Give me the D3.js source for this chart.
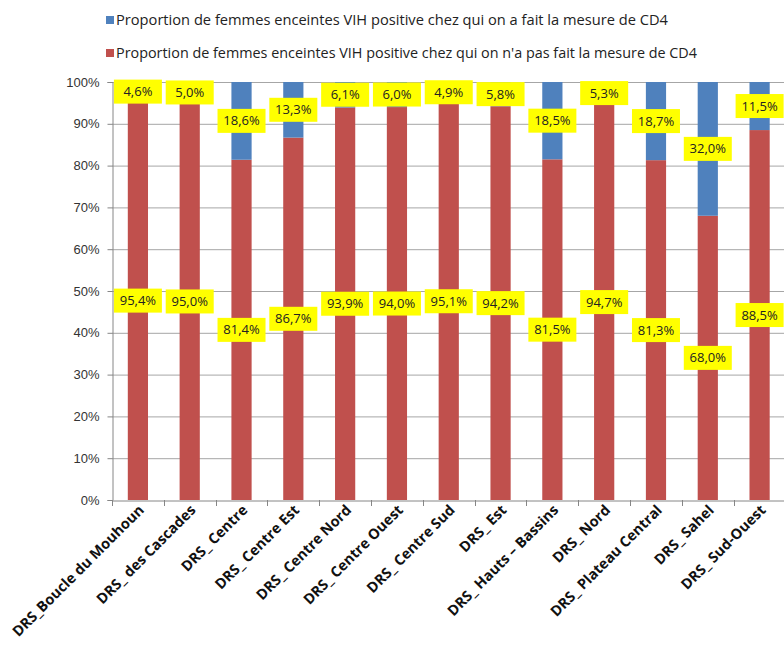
<!DOCTYPE html>
<html><head><meta charset="utf-8">
<script src="https://cdn.jsdelivr.net/npm/d3@7"></script>
<style>body{margin:0;background:#fff}svg{display:block}</style>
</head><body>
<script>
const categories = ["DRS_Boucle du Mouhoun","DRS_ des Cascades","DRS_ Centre","DRS_ Centre Est","DRS_ Centre Nord","DRS_ Centre Ouest","DRS_ Centre Sud","DRS_ Est","DRS_ Hauts – Bassins","DRS_ Nord","DRS_ Plateau Central","DRS_ Sahel","DRS_ Sud-Ouest"];
const notMeasured = [95.4,95.0,81.4,86.7,93.9,94.0,95.1,94.2,81.5,94.7,81.3,68.0,88.5];
const measured = [4.6,5.0,18.6,13.3,6.1,6.0,4.9,5.8,18.5,5.3,18.7,32.0,11.5];
const seriesNames = ["Proportion de femmes enceintes VIH positive chez qui on a fait la mesure de CD4","Proportion de femmes enceintes VIH positive chez qui on n'a pas fait la mesure de CD4"];
const yTicks = [0,10,20,30,40,50,60,70,80,90,100];

const W = 784, H = 652;
const svg = d3.select("body").append("svg").attr("width",W).attr("height",H)
  .style("font-family","'Open Sans', 'Liberation Sans', sans-serif");

const x = d3.scaleBand().domain(categories).range([112, 785.5]).paddingInner(0.61).paddingOuter(0.305);
const xb = d3.scaleBand().domain(categories).range([112, 785.5]);
const y = d3.scaleLinear().domain([0,100]).range([500,82]);
const colors = {measured:"#4F81BD", not:"#C0504D"};

// gridlines
svg.append("g").selectAll("line").data(yTicks.filter(d=>d>0)).join("line")
  .attr("x1",112).attr("x2",W).attr("y1",d=>y(d)+0.5).attr("y2",d=>y(d)+0.5)
  .attr("stroke","#a6a6a6").attr("stroke-width",1);

// y axis
const yAxis = d3.axisLeft(y).tickValues(yTicks).tickFormat(d=>d+"%").tickSize(5).tickPadding(8);
const gy = svg.append("g").attr("transform","translate(112.5,0)").call(yAxis);
gy.select(".domain").attr("stroke","#868686");
gy.selectAll(".tick line").attr("stroke","#868686");
gy.selectAll(".tick text").attr("fill","#333").style("font-size","13px");

// bars
const stack = categories.map((c,i)=>({c, nm:notMeasured[i], m:measured[i]}));
svg.append("g").selectAll("rect").data(stack).join("rect")
  .attr("x",d=>x(d.c)).attr("width",x.bandwidth())
  .attr("y",d=>y(d.nm)).attr("height",d=>y(0)-y(d.nm)).attr("fill",colors.not);
svg.append("g").selectAll("rect").data(stack).join("rect")
  .attr("x",d=>x(d.c)).attr("width",x.bandwidth())
  .attr("y",d=>y(d.nm+d.m)).attr("height",d=>y(d.nm)-y(d.nm+d.m)).attr("fill",colors.measured);

// x axis
const xAxis = d3.axisBottom(xb).tickSize(0).tickFormat("");
const gx = svg.append("g").attr("transform","translate(0,500.5)").call(xAxis);
gx.select(".domain").attr("stroke","#868686");
svg.append("g").selectAll("line").data(categories).join("line")
  .attr("x1",d=>Math.round(xb(d))+0.5).attr("x2",d=>Math.round(xb(d))+0.5)
  .attr("y1",500).attr("y2",506).attr("stroke","#868686");

// x labels
svg.append("g").selectAll("text").data(categories).join("text")
  .attr("transform",d=>`translate(${xb(d)+xb.bandwidth()/2+7},${511}) rotate(-45)`)
  .attr("text-anchor","end").attr("font-weight","bold").attr("fill","#111")
  .style("font-size","14.5px").text(d=>d);

// data labels
function addLabels(vals, centerFn){
  const g = svg.append("g");
  stack.forEach((d,i)=>{
    const cx = x(d.c)+x.bandwidth()/2;
    const cy = centerFn(d);
    const t = d3.format(".1f")(vals[i]).replace(".",",")+"%";
    const gg = g.append("g").attr("transform",`translate(${cx},${cy})`);
    gg.append("rect").attr("x",-24).attr("y",-12).attr("width",48).attr("height",24).attr("fill","#FFFF00");
    gg.append("text").attr("text-anchor","middle").attr("dy","0.35em").attr("fill","#222")
      .style("font-size","13px").text(t);
  });
}
addLabels(notMeasured, d=>y(d.nm/2));
addLabels(measured, d=>y(d.nm + d.m/2));

// legend
const leg = svg.append("g");
[[seriesNames[0],colors.measured,16,552],[seriesNames[1],colors.not,49,581]].forEach(([n,c,yy,len])=>{
  leg.append("rect").attr("x",106).attr("y",yy).attr("width",8).attr("height",8).attr("fill",c);
  leg.append("text").attr("x",116).attr("y",yy+4).attr("dy","0.35em").attr("fill","#222")
    .style("font-size","14px").attr("textLength",len).attr("lengthAdjust","spacingAndGlyphs").text(n);
});
</script>
</body></html>
